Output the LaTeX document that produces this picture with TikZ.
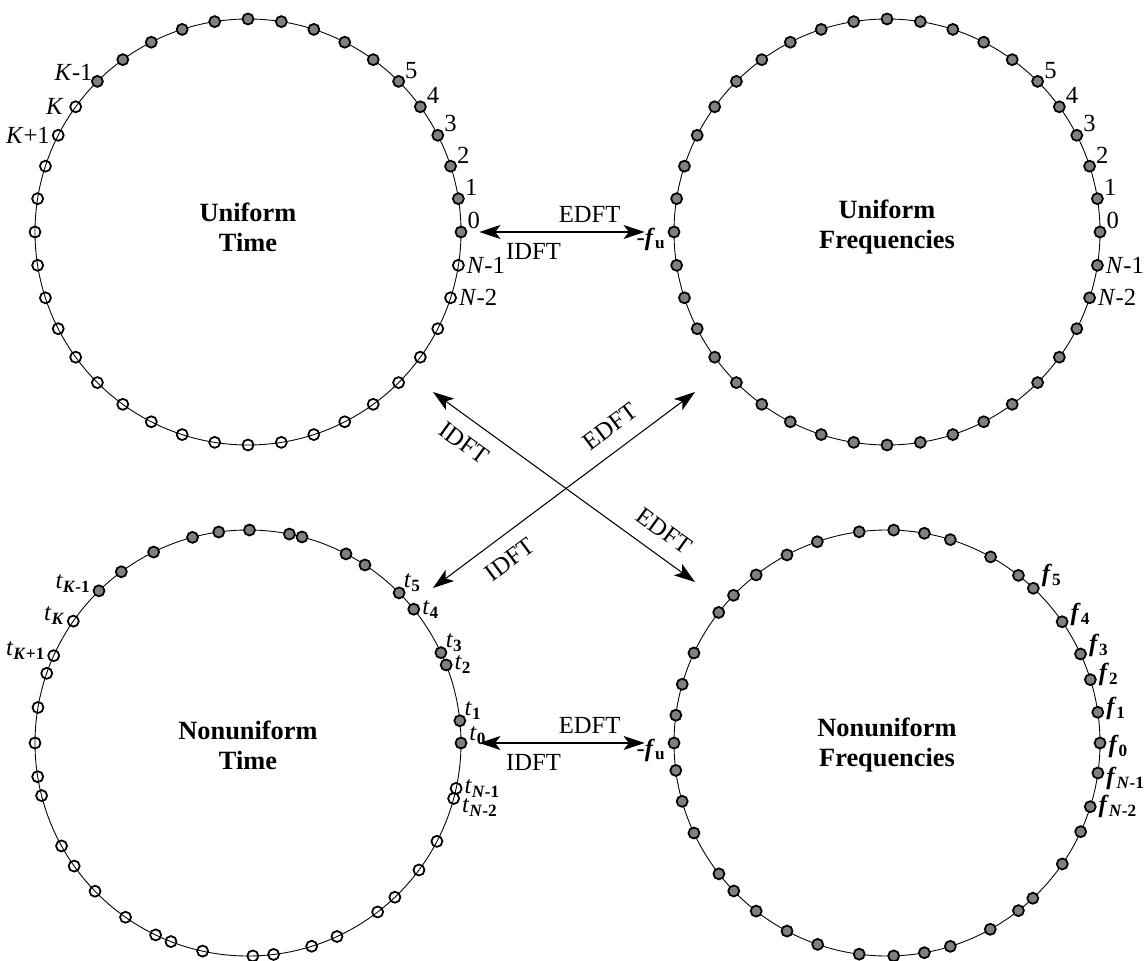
\documentclass[tikz,border=0pt]{standalone}
\usepackage{fontspec}
\setmainfont{Liberation Serif}
\usetikzlibrary{arrows.meta,calc,positioning}

\newcommand{\tsub}[2]{\textit{#1}\textsubscript{\textbf{#2}}}
\newcommand{\fsub}[1]{\textbf{\textit{f}}\textsubscript{\textbf{#1}}}

\begin{document}
\begin{tikzpicture}[x=0.02cm,y=0.02cm,>={Stealth[length=12pt,width=8pt,inset=3pt]},
  fdot/.style={circle,draw,line width=1pt,fill=gray,minimum size=0.22cm,inner sep=0pt},
  odot/.style={fdot,fill=none},
  ring/.style={line width=0.5pt},
  xform/.style={<->,line width=0.6pt},
  tag/.style={font=\fontsize{14}{16}\selectfont,inner sep=1pt},
  title/.style={font=\fontsize{15}{17}\selectfont\bfseries,align=center}]

  \useasboundingbox (0,0) rectangle (1145,960);

  \coordinate (UT) at (248,728);
  \coordinate (UF) at (887,728);
  \coordinate (NT) at (248,217);
  \coordinate (NF) at (887,217);

  \foreach \c in {UT,UF,NT,NF}
    \draw[ring] (\c) circle[radius=213];

  % uniform time
  \foreach \i in {0,...,15}
    \node[fdot] (ut\i) at ($(UT)+({9*\i}:213)$) {};
  \foreach \i in {16,...,39}
    \node[odot] (ut\i) at ($(UT)+({9*\i}:213)$) {};

  % uniform frequencies
  \foreach \i in {0,...,39}
    \node[fdot] (uf\i) at ($(UF)+({9*\i}:213)$) {};

  % nonuniform time
  \foreach \a [count=\i from 0] in {0,6,21.5,25.1,38.9,44.8,56.7,62.6,75.3,78.8,89.6,97.9,105.1,116.3,126.5,134.4}
    \node[fdot] (nt\i) at ($(NT)+(\a:213)$) {};
  \foreach \a [count=\i from 16] in {145.1,155.8,160.9,170.4,180,189.1,194.3,208.9,215.3,224.1,234.9,244.3,
      248.8,257.7,271.3,276.9,287.4,294.7,307.5,313.6,323.4,332.5,344.9,347.7}
    \node[odot] (nt\i) at ($(NT)+(\a:213)$) {};

  % nonuniform frequencies
  \foreach \a [count=\i from 0] in {0,8.3,17.3,24.7,34.7,46.6,51.9,60.9,72.7,79.9,88.2,97.5,109.1,118,127.9,136.1,
      142.2,155,164,172.5,180,187.4,195.9,205,217.9,224,232.1,242,251,262.5,271.8,280.1,287.3,299,308.1,
      313.2,325.4,335.4,342.6,351.9}
    \node[fdot] (nf\i) at ($(NF)+(\a:213)$) {};

  \node[title] (utname) at ($(UT)+(0,5)$) {Uniform\\Time};
  \node[title] (ufname) at ($(UF)+(0,5)$) {Uniform\\Frequencies};
  \node[title] (ntname) at ($(NT)+(0,-2)$) {Nonuniform\\Time};
  \node[title] (nfname) at ($(NF)+(0,-2)$) {Nonuniform\\Frequencies};

  \foreach \i in {0,...,5} {
    \node[tag,above right=-2pt and 0pt of ut\i] (utl\i) {\i};
    \node[tag,above right=-2pt and 0pt of uf\i] (ufl\i) {\i};
  }
  \node[tag,right=0pt of ut39] (utlm1) {\textit{N}-1};
  \node[tag,right=0pt of ut38] (utlm2) {\textit{N}-2};
  \node[tag,above left=-3pt and -1pt of ut15] (utlk1) {\textit{K}-1};
  \node[tag,left=2pt of ut16] (utlk) {\textit{K}};
  \node[tag,left=0pt of ut17] (utlk2) {\textit{K}+1};
  \node[tag,right=0pt of uf39] (uflm1) {\textit{N}-1};
  \node[tag,right=0pt of uf38] (uflm2) {\textit{N}-2};
  \node[tag,left=0pt of uf20,yshift=-4pt] (uffu) {-\fsub{u}};

  \node[tag,right=0pt of nt0,yshift=4pt] (ntl0) {\tsub{t}{0}};
  \node[tag,above right=-3pt and -1pt of nt1] (ntl1) {\tsub{t}{1}};
  \node[tag,right=0pt of nt2] (ntl2) {\tsub{t}{2}};
  \node[tag,above right=-3pt and -1pt of nt3] (ntl3) {\tsub{t}{3}};
  \node[tag,right=0pt of nt4] (ntl4) {\tsub{t}{4}};
  \node[tag,above right=-3pt and -1pt of nt5] (ntl5) {\tsub{t}{5}};
  \node[tag,left=0pt of nt15,yshift=4pt] (ntlk1) {\tsub{t}{\textit{K}-1}};
  \node[tag,left=0pt of nt16,yshift=3pt] (ntlk) {\tsub{t}{\textit{K}}};
  \node[tag,left=0pt of nt17,yshift=3pt] (ntlk2) {\tsub{t}{\textit{K}+1}};
  \node[tag,right=0pt of nt39] (ntlm1) {\tsub{t}{\textit{N}-1}};
  \node[tag,right=0pt of nt38,yshift=-5pt] (ntlm2) {\tsub{t}{\textit{N}-2}};

  \node[tag,right=0pt of nf0,yshift=-2pt] (nfl0) {\fsub{0}};
  \node[tag,right=0pt of nf1,yshift=2pt] (nfl1) {\fsub{1}};
  \node[tag,right=0pt of nf2,yshift=3pt] (nfl2) {\fsub{2}};
  \node[tag,right=0pt of nf3,yshift=5pt] (nfl3) {\fsub{3}};
  \node[tag,right=0pt of nf4,yshift=4pt] (nfl4) {\fsub{4}};
  \node[tag,right=0pt of nf5,yshift=7pt] (nfl5) {\fsub{5}};
  \node[tag,right=0pt of nf39,yshift=-3pt] (nflm1) {\fsub{\textit{N}-1}};
  \node[tag,right=0pt of nf38] (nflm2) {\fsub{\textit{N}-2}};
  \node[tag,left=0pt of nf20,yshift=-4pt] (nffu) {-\fsub{u}};

  \coordinate (dUT) at (433,568);
  \coordinate (dNF) at (695,378);
  \coordinate (dNT) at (433,372);
  \coordinate (dUF) at (695,568);

  \path[every node/.style={font=\fontsize{14}{16}\selectfont}]
    (ut0) edge[xform,shorten <=0.24cm,shorten >=0.46cm]
      node[pos=0.61,above=2pt] {EDFT} node[pos=0.33,below=3pt] {IDFT} (uf20)
    (nt0) edge[xform,shorten <=0.24cm,shorten >=0.46cm]
      node[pos=0.61,above=2pt] {EDFT} node[pos=0.33,below=3pt] {IDFT} (nf20)
    (dUT) edge[xform] node[sloped,pos=0.17,below=5pt] {IDFT} node[sloped,pos=0.83,above=5pt] {EDFT} (dNF)
    (dNT) edge[xform] node[sloped,pos=0.24,below=5pt] {IDFT} node[sloped,pos=0.73,above=5pt] {EDFT} (dUF);
\end{tikzpicture}
\end{document}
